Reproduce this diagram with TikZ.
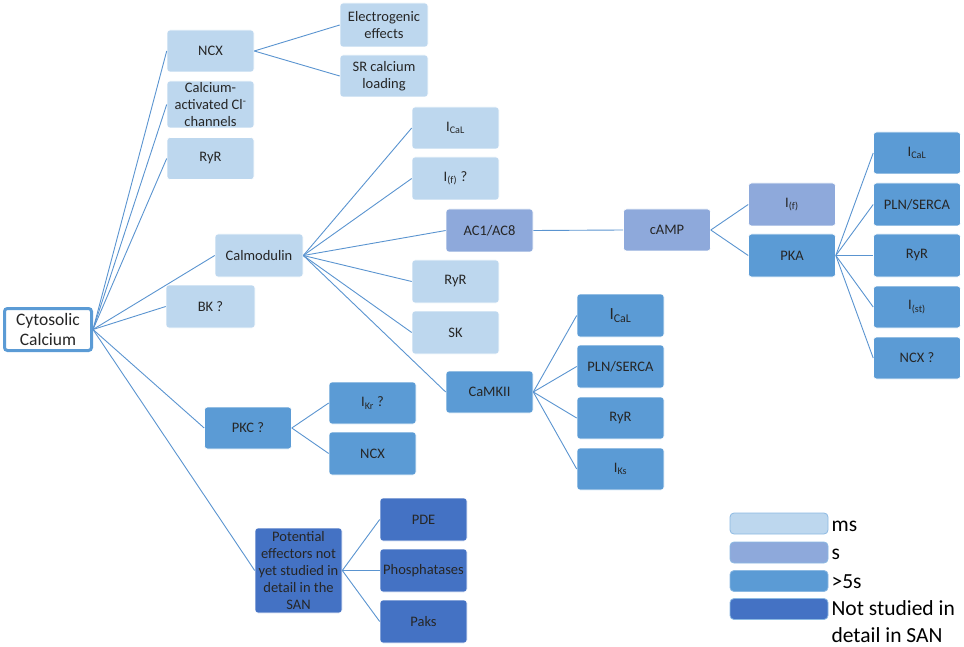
\documentclass[tikz,border=0pt]{standalone}
\usepackage{fontspec}
\setmainfont{Carlito}
\usepackage{tikz}
\usetikzlibrary{positioning}
\definecolor{msblue}{HTML}{BDD7EE}
\definecolor{sblue}{HTML}{8EA9DB}
\definecolor{longblue}{HTML}{5B9BD5}
\definecolor{nsblue}{HTML}{4472C4}
\definecolor{linkblue}{HTML}{5A94D0}

\begin{document}
\begin{tikzpicture}[x=1pt,y=-1pt,
  every node/.style={rectangle,rounded corners=3pt,draw=white,line width=0.6pt,
    minimum width=87pt,minimum height=42pt,inner sep=1pt,align=center,
    font=\fontsize{14.5}{17}\selectfont,text=black!85},
  msbox/.style={fill=msblue},
  sbox/.style={fill=sblue},
  longbox/.style={fill=longblue},
  nsbox/.style={fill=nsblue},
  link/.style={draw=linkblue,line width=0.9pt}]
  \useasboundingbox (0,0) rectangle (964,647);

  \node[draw=longblue,line width=3pt,fill=white,minimum width=87pt,minimum height=42pt,
    font=\fontsize{17.5}{20}\selectfont] (cyto) at (48,329.5) {Cytosolic\\Calcium};

  \node[msbox] (ncx) at (210.5,51) {NCX};
  \node[msbox,minimum height=47pt] (clch) at (210.5,104.5) {Calcium-\\activated Cl\textsuperscript{-}\\channels};
  \node[msbox] (ryr) at (210.5,158.5) {RyR};
  \node[msbox,minimum width=88pt,minimum height=44pt] (elec) at (384,25) {Electrogenic\\effects};
  \node[msbox,minimum width=88pt] (srload) at (384,76) {SR calcium\\loading};
  \node[msbox,minimum width=88pt,minimum height=43pt] (calm) at (259,255.5) {Calmodulin};
  \node[msbox,minimum width=89pt,minimum height=43pt] (bk) at (210.5,306.5) {BK ?};

  \node[msbox] (calmical) at (455.5,128) {I\textsubscript{CaL}};
  \node[msbox,minimum height=43pt] (calmif) at (455.5,178.5) {I\textsubscript{(f)} ?};
  \node[sbox,minimum height=43pt] (ac) at (489.5,230.5) {AC1/AC8};
  \node[msbox,minimum height=43pt] (calmryr) at (455.5,281.5) {RyR};
  \node[msbox,minimum height=43pt] (sk) at (455.5,332.5) {SK};
  \node[longbox] (camk) at (489.5,392) {CaMKII};

  \node[sbox] (camp) at (667,230) {cAMP};
  \node[sbox,minimum height=43pt] (campif) at (792,204.5) {I\textsubscript{(f)}};
  \node[longbox,minimum height=43pt] (pka) at (792,255.5) {PKA};

  \node[longbox] (pkaical) at (917,153) {I\textsubscript{CaL}};
  \node[longbox,minimum height=43pt] (pkapln) at (917,204.5) {PLN/SERCA};
  \node[longbox,minimum height=43pt] (pkaryr) at (917,255.5) {RyR};
  \node[longbox] (pkaist) at (917,307) {I\textsubscript{(st)}};
  \node[longbox] (pkancx) at (917,358) {NCX ?};

  \node[longbox,minimum height=43pt] (camkical) at (620.5,315.5) {\fontsize{17}{17}\selectfont I\textsubscript{CaL}};
  \node[longbox,minimum height=43pt] (camkpln) at (620.5,366.5) {PLN/SERCA};
  \node[longbox] (camkryr) at (620.5,418) {RyR};
  \node[longbox] (camkiks) at (620.5,469) {I\textsubscript{Ks}};

  \node[longbox] (pkc) at (248,428) {PKC ?};
  \node[longbox] (pkcikr) at (372.5,403) {I\textsubscript{Kr} ?};
  \node[longbox,minimum height=43pt] (pkcncx) at (372.5,453.5) {NCX};

  \node[nsbox,minimum height=85pt] (pot) at (298.5,570.5) {Potential\\effectors not\\yet studied in\\detail in the\\SAN};
  \node[nsbox,minimum height=43pt] (pde) at (423.5,519.5) {PDE};
  \node[nsbox,minimum height=43pt] (phos) at (423.5,570.5) {Phosphatases};
  \node[nsbox,minimum height=43pt] (paks) at (423.5,621.5) {Paks};

  \foreach \c in {ncx,clch,ryr,calm,bk,pkc,pot}
    \draw[link] (cyto.east) -- (\c.west);
  \foreach \c in {elec,srload}
    \draw[link] (ncx.east) -- (\c.west);
  \foreach \c in {calmical,calmif,ac,calmryr,sk,camk}
    \draw[link] (calm.east) -- (\c.west);
  \draw[link] (ac.east) -- (camp.west);
  \foreach \c in {campif,pka}
    \draw[link] (camp.east) -- (\c.west);
  \foreach \c in {pkaical,pkapln,pkaryr,pkaist,pkancx}
    \draw[link] (pka.east) -- (\c.west);
  \foreach \c in {camkical,camkpln,camkryr,camkiks}
    \draw[link] (camk.east) -- (\c.west);
  \foreach \c in {pkcikr,pkcncx}
    \draw[link] (pkc.east) -- (\c.west);
  \foreach \c in {pde,phos,paks}
    \draw[link] (pot.east) -- (\c.west);

  \begin{scope}[every node/.append style={minimum width=98pt,minimum height=21pt,
      rounded corners=4pt,draw=longblue!70,line width=0.8pt}]
    \node[msbox] (keyms) at (779,523.5) {};
    \node[sbox] (keys) at (779,552.5) {};
    \node[longbox] (keylong) at (779,581) {};
    \node[nsbox] (keyns) at (779,609) {};
  \end{scope}
  \begin{scope}[every node/.style={anchor=west,inner sep=0pt,align=left,
      font=\fontsize{21.5}{27}\selectfont,text=black}]
    \node[right=3pt of keyms,yshift=-3pt] (txtms) {ms};
    \node[right=3pt of keys,yshift=-2pt] (txts) {s};
    \node[right=3pt of keylong,yshift=-1pt] (txtlong) {>5s};
    \node[anchor=north west] (txtns) at ([xshift=3pt,yshift=9pt]keyns.east) {Not studied in\\detail in SAN};
  \end{scope}
\end{tikzpicture}
\end{document}
